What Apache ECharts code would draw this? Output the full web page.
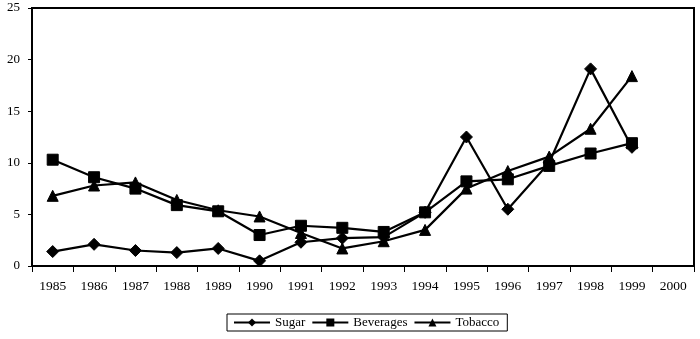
<!DOCTYPE html>
<html>
<head>
<meta charset="utf-8">
<script src="https://cdn.jsdelivr.net/npm/echarts@6/dist/echarts.min.js"></script>
<style>
  html, body { margin: 0; padding: 0; background: #fff; }
  #chart { width: 700px; height: 339px; }
</style>
</head>
<body>
<div id="chart"></div>
<script>
// Years along the horizontal axis (2000 has no data yet)
var years = ['1985','1986','1987','1988','1989','1990','1991','1992','1993','1994','1995','1996','1997','1998','1999','2000'];

// Annual values per product group
var sugar     = [1.4, 2.1, 1.5, 1.3, 1.7, 0.5, 2.3, 2.7, 2.8, 5.2, 12.5, 5.5, 10.0, 19.1, 11.5, null];
var beverages = [10.3, 8.6, 7.5, 5.9, 5.3, 3.0, 3.9, 3.7, 3.3, 5.2, 8.2, 8.4, 9.7, 10.9, 11.9, null];
var tobacco   = [6.8, 7.8, 8.1, 6.4, 5.4, 4.8, 3.2, 1.7, 2.4, 3.5, 7.5, 9.2, 10.6, 13.3, 18.4, null];

// Value axis ticks
var yTicks = [0, 5, 10, 15, 20, 25];

var fontFam = '"Liberation Serif", "DejaVu Serif", serif';

function lineSeries(name, data, symbol, size) {
  return {
    name: name,
    type: 'line',
    data: data,
    symbol: symbol,
    symbolSize: size,
    showSymbol: true,
    lineStyle: { color: '#000', width: 2.2 },
    itemStyle: { color: '#000', borderColor: '#000' },
    animation: false,
    z: 3
  };
}

var chart = echarts.init(document.getElementById('chart'), null, { renderer: 'canvas' });
chart.setOption({
  backgroundColor: '#fff',
  animation: false,
  grid: {
    left: 32, right: 6, top: 8, bottom: 73,
    show: true, borderColor: '#000', borderWidth: 2, backgroundColor: 'transparent'
  },
  legend: {
    bottom: 8,
    left: 227,
    data: ['Sugar', 'Beverages', 'Tobacco'],
    itemWidth: 36,
    itemHeight: 10,
    itemGap: 6,
    borderColor: '#000',
    borderWidth: 1,
    borderRadius: 0,
    padding: [2, 8, 2, 6],
    textStyle: { fontFamily: fontFam, fontSize: 13, color: '#000' }
  },
  xAxis: {
    type: 'category',
    data: years,
    boundaryGap: true,
    axisLine: { lineStyle: { color: '#000', width: 2 } },
    axisTick: { show: true, interval: 0, length: 6, lineStyle: { color: '#000', width: 1 } },
    axisLabel: { interval: 0, color: '#000', fontFamily: fontFam, fontSize: 13.5, margin: 13 },
    splitLine: { show: false }
  },
  yAxis: {
    type: 'value',
    min: yTicks[0],
    max: yTicks[yTicks.length - 1],
    interval: 5,
    axisLine: { show: true, lineStyle: { color: '#000', width: 2 } },
    axisTick: { show: true, length: 4, lineStyle: { color: '#000', width: 1 } },
    axisLabel: { color: '#000', fontFamily: fontFam, fontSize: 13, margin: 12 },
    splitLine: { show: false }
  },
  series: [
    lineSeries('Sugar', sugar, 'diamond', 12),
    lineSeries('Beverages', beverages, 'rect', 11),
    lineSeries('Tobacco', tobacco, 'triangle', 11)
  ]
});
</script>
</body>
</html>
